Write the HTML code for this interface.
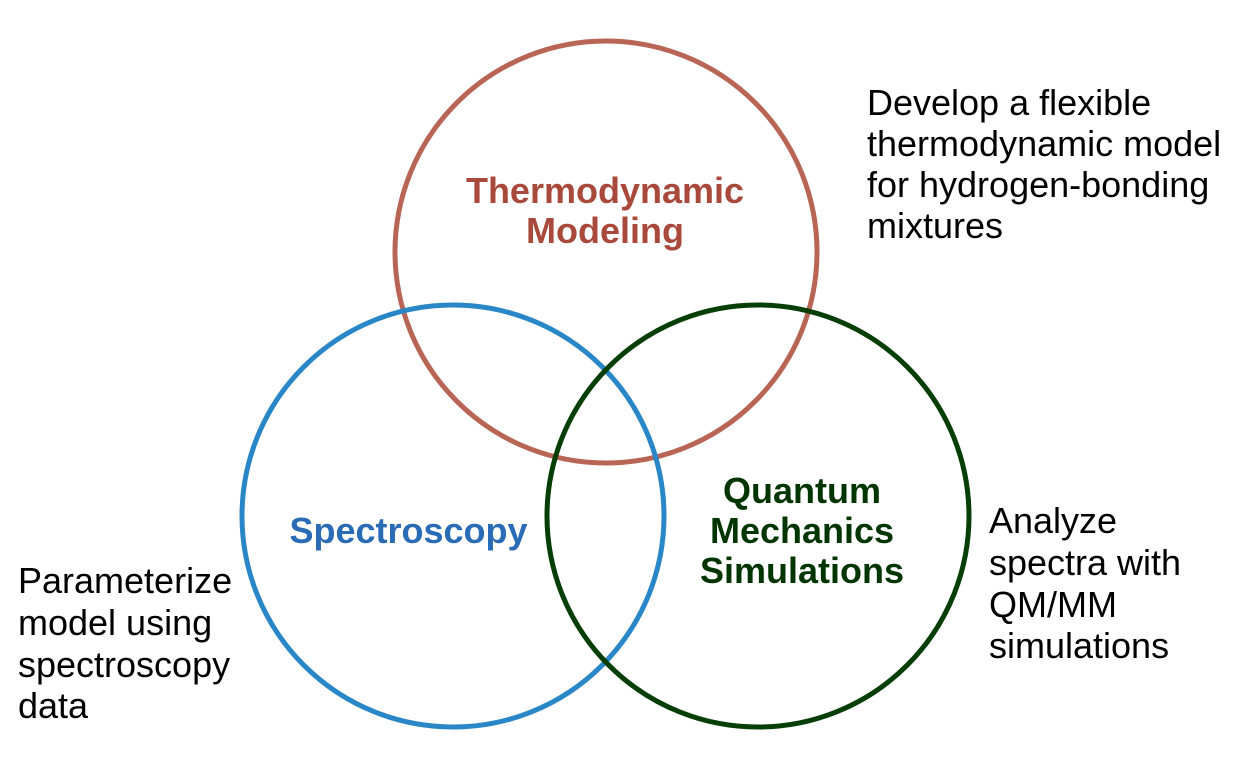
<!DOCTYPE html>
<html>
<head>
<meta charset="utf-8">
<style>
  html, body { margin:0; padding:0; background:#ffffff; }
  body { width:1238px; height:761px; overflow:hidden; }
  svg { display:block; }
  .lbl { font-family:"Liberation Sans", Arial, sans-serif; font-weight:bold; font-size:36px; }
  .side { font-family:"Liberation Sans", Arial, sans-serif; font-size:36px; fill:#000; }
</style>
</head>
<body>
<svg width="1238" height="761" viewBox="0 0 1238 761" xmlns="http://www.w3.org/2000/svg">
  <rect x="0" y="0" width="1238" height="761" fill="#ffffff"/>
  <!-- circles -->
  <circle cx="606" cy="252" r="211" fill="none" stroke="#b86555" stroke-width="5"/>
  <circle cx="453" cy="516" r="211" fill="none" stroke="#2a87c7" stroke-width="5"/>
  <circle cx="758" cy="516" r="211" fill="none" stroke="#063f06" stroke-width="5"/>

  <!-- circle labels -->
  <text class="lbl" fill="#a8493b" text-anchor="middle" x="605" y="203">Thermodynamic</text>
  <text class="lbl" fill="#a8493b" text-anchor="middle" x="605" y="243">Modeling</text>

  <text class="lbl" fill="#2a6bb6" text-anchor="middle" x="408.5" y="543">Spectroscopy</text>

  <text class="lbl" fill="#003500" text-anchor="middle" x="802" y="503">Quantum</text>
  <text class="lbl" fill="#003500" text-anchor="middle" x="802" y="543">Mechanics</text>
  <text class="lbl" fill="#003500" text-anchor="middle" x="802" y="583">Simulations</text>

  <!-- side texts -->
  <text class="side" x="867" y="115">Develop a flexible</text>
  <text class="side" x="867" y="156">thermodynamic model</text>
  <text class="side" x="867" y="197">for hydrogen-bonding</text>
  <text class="side" x="867" y="238">mixtures</text>

  <text class="side" x="18" y="593">Parameterize</text>
  <text class="side" x="18" y="635">model using</text>
  <text class="side" x="18" y="677">spectroscopy</text>
  <text class="side" x="18" y="718">data</text>

  <text class="side" x="989" y="533">Analyze</text>
  <text class="side" x="989" y="575">spectra with</text>
  <text class="side" x="989" y="617">QM/MM</text>
  <text class="side" x="989" y="658">simulations</text>
</svg>
</body>
</html>
